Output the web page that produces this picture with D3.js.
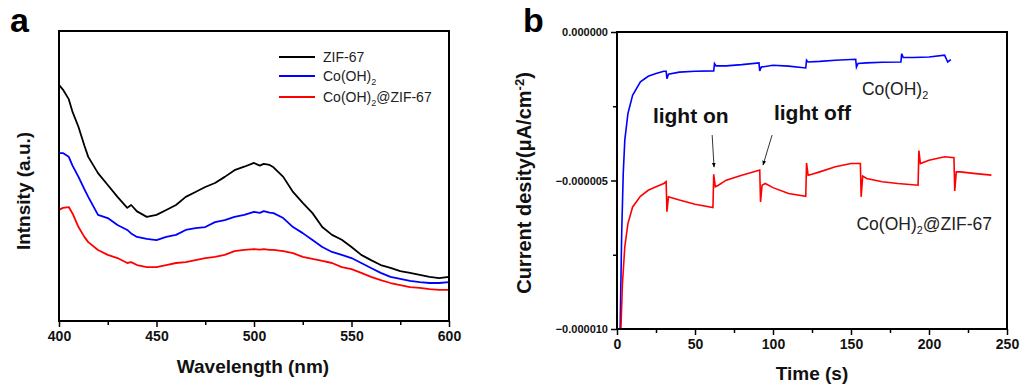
<!DOCTYPE html>
<html>
<head>
<meta charset="utf-8">
<script src="https://cdn.jsdelivr.net/npm/d3@7"></script>
<style>
  body { margin: 0; background: #fff; }
  text { font-family: "Liberation Sans", Arial, sans-serif; }
</style>
</head>
<body>
<svg id="chart" width="1034" height="389"></svg>
<script>
// ---- panel a: emission spectra (arbitrary units) ----
const wavelength = [400, 402, 405, 407, 410, 413, 415, 420, 425, 430, 435, 437, 440, 445, 450, 455, 460, 465, 470, 475, 480, 485, 490, 495, 500, 503, 505, 508, 510, 515, 520, 525, 530, 535, 540, 545, 550, 555, 560, 565, 570, 575, 580, 585, 590, 595, 600];
const zif67 = [81.4, 79.8, 76.5, 72.0, 66.9, 60.5, 56.6, 51.0, 46.9, 42.8, 39.0, 40.0, 37.8, 35.9, 36.6, 38.3, 40.0, 42.8, 44.5, 46.2, 47.6, 49.7, 52.0, 53.2, 54.5, 53.6, 54.2, 53.8, 53.0, 49.7, 44.5, 40.7, 37.2, 32.4, 29.7, 28.0, 25.5, 22.8, 21.0, 19.3, 18.3, 17.2, 16.6, 15.9, 15.2, 14.8, 15.2];
const cooh2 = [57.9, 57.9, 56.6, 53.5, 49.7, 45.5, 42.8, 36.6, 35.5, 33.1, 31.4, 30.2, 29.0, 28.3, 27.9, 29.0, 29.7, 31.4, 32.0, 32.4, 34.1, 34.8, 35.9, 36.6, 37.6, 37.3, 37.9, 37.4, 37.2, 35.5, 32.4, 30.3, 27.9, 25.5, 23.8, 22.8, 21.7, 20.0, 18.3, 16.6, 15.2, 14.5, 13.8, 13.4, 13.1, 13.1, 13.4];
const composite = [38.3, 39.0, 39.3, 37.0, 32.4, 29.0, 27.2, 24.5, 22.8, 21.7, 20.0, 20.3, 19.3, 18.6, 18.6, 19.3, 20.0, 20.3, 21.0, 21.7, 22.1, 22.8, 24.1, 24.5, 24.8, 24.6, 24.8, 24.5, 24.5, 24.1, 23.4, 22.1, 21.4, 20.7, 20.0, 18.6, 17.9, 16.6, 15.2, 14.1, 13.1, 12.4, 11.7, 11.4, 11.0, 10.7, 10.7];
const spectraNames = ["ZIF-67", "Co(OH)", "Co(OH)"];
const spectraColors = ["#000000", "#0000ff", "#ff0000"];
const wlTicks = [400, 450, 500, 550, 600];

// ---- panel b: photocurrent (values in 1e-6 A/cm2) ----
const timeBlue = [2, 3, 4, 5, 7, 10, 15, 20, 25, 30, 31.5, 32, 33, 40, 50, 62, 62.5, 63.5, 70, 80, 91, 91.5, 92.5, 100, 110, 121, 121.5, 122.5, 130, 140, 153, 153.5, 154.5, 160, 170, 182, 182.5, 183.5, 190, 200, 210, 212, 214];
const currentBlue = [-10, -6.8, -4.76, -3.64, -2.75, -2.13, -1.68, -1.49, -1.40, -1.32, -1.32, -1.57, -1.42, -1.35, -1.32, -1.31, -1.06, -1.14, -1.14, -1.10, -1.04, -1.31, -1.18, -1.12, -1.15, -1.21, -0.95, -1.01, -0.99, -0.95, -0.92, -1.18, -1.06, -1.04, -1.02, -1.01, -0.73, -0.86, -0.86, -0.84, -0.78, -1.01, -0.93];
const timeRed = [2.5, 3.5, 5, 7, 10, 15, 20, 25, 30, 31.5, 32, 33, 35, 40, 50, 61.5, 62, 63, 65, 70, 80, 90, 91.5, 92, 93, 95, 100, 110, 121, 121.5, 122.5, 125, 130, 140, 150, 156, 156.5, 157.5, 160, 170, 180, 193, 193.5, 194.5, 200, 210, 216, 216.5, 217.5, 220, 230, 240];
const currentRed = [-10, -8.46, -7.23, -6.45, -5.89, -5.53, -5.33, -5.21, -5.10, -5.04, -6.05, -5.55, -5.58, -5.66, -5.80, -5.91, -4.79, -5.21, -5.16, -4.99, -4.82, -4.67, -4.65, -5.72, -5.16, -5.10, -5.24, -5.44, -5.53, -4.41, -4.82, -4.79, -4.71, -4.54, -4.43, -4.43, -5.55, -4.85, -4.93, -5.04, -5.10, -5.16, -3.99, -4.43, -4.32, -4.20, -4.23, -5.35, -4.71, -4.71, -4.77, -4.82];
const timeTicks = [0, 50, 100, 150, 200, 250];
const currentTicks = [0, -0.000005, -0.00001];
const unit = 1e-6;

const svg = d3.select('#chart');

// helper: boxed frame
function frame(x0, x1, y0, y1) {
  svg.append('rect')
    .attr('x', x0).attr('y', y0)
    .attr('width', x1 - x0).attr('height', y1 - y0)
    .attr('fill', 'none').attr('stroke', '#000').attr('stroke-width', 2);
}

function styleAxis(g, size) {
  g.select('.domain').remove();
  g.selectAll('line').attr('stroke', '#000').attr('stroke-width', 1.5);
  g.selectAll('text')
    .attr('fill', '#111')
    .style('font-size', size + 'px')
    .style('font-weight', 'bold');
}

// ================= panel a =================
const ax0 = 59, ax1 = 449, ay0 = 31, ay1 = 321;
const xA = d3.scaleLinear().domain([400, 600]).range([ax0, ax1]);
const yA = d3.scaleLinear().domain([0, 100]).range([ay1, ay0]);

svg.append('g').attr('transform', `translate(0,${ay1})`)
  .call(d3.axisBottom(xA).tickValues(d3.range(425, 600, 50)).tickSize(4).tickFormat(''))
  .call(g => styleAxis(g, 14));
svg.append('g').attr('transform', `translate(0,${ay1})`)
  .call(d3.axisBottom(xA).tickValues(wlTicks).tickSize(6).tickPadding(4))
  .call(g => styleAxis(g, 14));

const lineA = d3.line().x((d, i) => xA(wavelength[i])).y(d => yA(d));
[zif67, cooh2, composite].forEach((s, i) => {
  svg.append('path').datum(s)
    .attr('d', lineA)
    .attr('fill', 'none')
    .attr('stroke', spectraColors[i])
    .attr('stroke-width', 1.8)
    .attr('stroke-linejoin', 'round');
});
frame(ax0, ax1, ay0, ay1);

// legend
const leg = svg.append('g').attr('transform', 'translate(279,57)');
spectraNames.forEach((name, i) => {
  const row = leg.append('g').attr('transform', `translate(0,${[0, 19, 40][i]})`);
  row.append('line').attr('x1', 0).attr('x2', 36).attr('y1', 0).attr('y2', 0)
    .attr('stroke', spectraColors[i]).attr('stroke-width', 2);
  const t = row.append('text').attr('x', 44).attr('y', 5)
    .style('font-size', '14px').attr('fill', '#222');
  t.append('tspan').text(name);
  if (i > 0) {
    t.append('tspan').attr('dy', 4).style('font-size', '9px').text('2');
    if (i === 2) t.append('tspan').attr('dy', -4).text('@ZIF-67');
  }
});

svg.append('text').attr('x', 253).attr('y', 373).attr('text-anchor', 'middle')
  .style('font-size', '19px').style('font-weight', 'bold').attr('fill', '#111')
  .text('Wavelength (nm)');
svg.append('text').attr('transform', 'translate(30,191) rotate(-90)').attr('text-anchor', 'middle')
  .style('font-size', '19px').style('font-weight', 'bold').attr('fill', '#111')
  .text('Intnsity (a.u.)');
svg.append('text').attr('x', 10).attr('y', 32)
  .style('font-size', '34px').style('font-weight', 'bold').attr('fill', '#000').text('a');

// ================= panel b =================
const bx0 = 617, bx1 = 1007, by0 = 32, by1 = 329;
const xB = d3.scaleLinear().domain([0, 250]).range([bx0, bx1]);
const yB = d3.scaleLinear().domain([-0.00001, 0]).range([by1, by0]);

svg.append('g').attr('transform', `translate(0,${by1})`)
  .call(d3.axisBottom(xB).tickValues(d3.range(25, 250, 50)).tickSize(4).tickFormat(''))
  .call(g => styleAxis(g, 14));
svg.append('g').attr('transform', `translate(0,${by1})`)
  .call(d3.axisBottom(xB).tickValues(timeTicks).tickSize(6).tickPadding(4))
  .call(g => styleAxis(g, 14));
svg.append('g').attr('transform', `translate(${bx0},0)`)
  .call(d3.axisLeft(yB).tickValues([-0.0000025, -0.0000075]).tickSize(4).tickFormat(''))
  .call(g => styleAxis(g, 11));
svg.append('g').attr('transform', `translate(${bx0},0)`)
  .call(d3.axisLeft(yB).tickValues(currentTicks).tickSize(6).tickPadding(3).tickFormat(d3.format('.6f')))
  .call(g => styleAxis(g, 11));

svg.append('clipPath').attr('id', 'clipB')
  .append('rect').attr('x', bx0).attr('y', by0).attr('width', bx1 - bx0).attr('height', by1 - by0);
const lineBlue = d3.line().x((d, i) => xB(timeBlue[i])).y(d => yB(d * unit));
const lineRed = d3.line().x((d, i) => xB(timeRed[i])).y(d => yB(d * unit));
svg.append('path').datum(currentBlue).attr('d', lineBlue)
  .attr('fill', 'none').attr('stroke', '#0000ff').attr('stroke-width', 1.6)
  .attr('clip-path', 'url(#clipB)');
svg.append('path').datum(currentRed).attr('d', lineRed)
  .attr('fill', 'none').attr('stroke', '#ff0000').attr('stroke-width', 1.6)
  .attr('clip-path', 'url(#clipB)');
frame(bx0, bx1, by0, by1);

// annotations
const lbl = (x, y, parts, size) => {
  const t = svg.append('text').attr('x', x).attr('y', y)
    .style('font-size', size + 'px').attr('fill', '#222');
  parts.forEach(p => {
    const s = t.append('tspan').text(p.t);
    if (p.sub) s.attr('dy', 4).style('font-size', (size * 0.62) + 'px');
    if (p.back) s.attr('dy', -4);
  });
};
lbl(xB(157), yB(-2.12 * unit), [{ t: 'Co(OH)' }, { t: '2', sub: true }], 17.5);
lbl(xB(153.5), yB(-6.67 * unit), [{ t: 'Co(OH)' }, { t: '2', sub: true }, { t: '@ZIF-67', back: true }], 17.5);
svg.append('text').attr('x', xB(23)).attr('y', yB(-3.06 * unit))
  .style('font-size', '21px').style('font-weight', 'bold').attr('fill', '#111').text('light on');
svg.append('text').attr('x', xB(100.6)).attr('y', yB(-2.96 * unit))
  .style('font-size', '21px').style('font-weight', 'bold').attr('fill', '#111').text('light off');

svg.append('defs').append('marker').attr('id', 'arr')
  .attr('viewBox', '0 0 10 10').attr('refX', 9).attr('refY', 5)
  .attr('markerWidth', 6).attr('markerHeight', 6).attr('orient', 'auto')
  .append('path').attr('d', 'M0,1 L10,5 L0,9 Z').attr('fill', '#000');
const arrows = [
  { t0: 61, v0: -3.47, t1: 62.2, v1: -4.55 },
  { t0: 99.4, v0: -3.47, t1: 93.6, v1: -4.48 }
];
arrows.forEach(a => {
  svg.append('line')
    .attr('x1', xB(a.t0)).attr('y1', yB(a.v0 * unit))
    .attr('x2', xB(a.t1)).attr('y2', yB(a.v1 * unit))
    .attr('stroke', '#000').attr('stroke-width', 0.8)
    .attr('marker-end', 'url(#arr)');
});

svg.append('text').attr('x', xB(125)).attr('y', 380).attr('text-anchor', 'middle')
  .style('font-size', '19px').style('font-weight', 'bold').attr('fill', '#111')
  .text('Time (s)');
const yl = svg.append('text').attr('transform', 'translate(531,183) rotate(-90)').attr('text-anchor', 'middle')
  .style('font-size', '20px').style('font-weight', 'bold').attr('fill', '#111');
yl.append('tspan').text('Current desity(μA/cm');
yl.append('tspan').attr('dy', -7).style('font-size', '13px').text('-2');
yl.append('tspan').attr('dy', 7).text(')');
svg.append('text').attr('x', 523).attr('y', 32)
  .style('font-size', '34px').style('font-weight', 'bold').attr('fill', '#000').text('b');
</script>
</body>
</html>
